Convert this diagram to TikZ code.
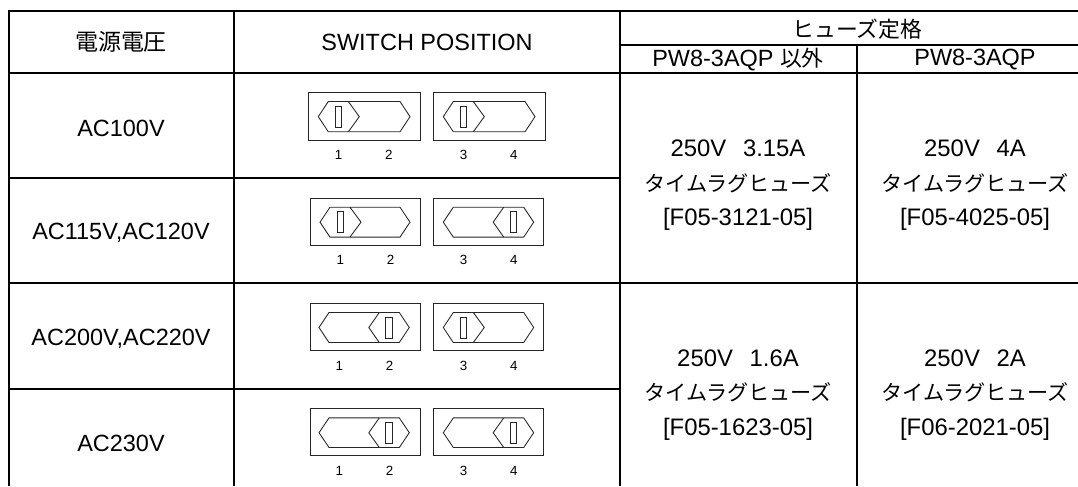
\documentclass[tikz,border=0pt]{standalone}
\usepackage{fontspec}
\setmainfont{Liberation Sans}
\newfontfamily\cjk[Scale=0.93]{Noto Sans CJK JP}
\newfontfamily\cjkh[Scale=0.98]{Noto Sans CJK JP}
\newfontfamily\cjkf[Scale=0.885]{Noto Sans CJK JP}
\tikzset{
 x=0.75pt,y=-0.75pt,
 rule/.style={line width=1.5pt,black},
 thin box/.style={draw=black!85,line width=0.65pt},
 lab/.style={font=\fontsize{17.6}{21}\selectfont,inner sep=0pt,anchor=center,align=center},
 fuse/.style={font=\fontsize{17.9}{25.9}\selectfont,inner sep=0pt,anchor=center,align=center},
 num/.style={font=\fontsize{10}{12}\selectfont,inner sep=0pt,anchor=center},
}
% frame left, top, right, bottom; hexagon left, right; knob side (0 left, 1 right); first number
\newcommand{\swunit}[8]{%
 \draw[thin box] (#1,#2) rectangle (#3,#4);
 \pgfmathsetmacro{\yt}{#2+9.2}\pgfmathsetmacro{\yb}{#4-8.2}\pgfmathsetmacro{\ym}{(\yt+\yb)/2}
 \pgfmathsetmacro{\xa}{#5}\pgfmathsetmacro{\xb}{#6}
 \draw[thin box] (\xa,\ym) -- (\xa+10,\yt) -- (\xb-10,\yt) -- (\xb,\ym) -- (\xb-10,\yb) -- (\xa+10,\yb) -- cycle;
 \ifnum#7=0
  \draw[thin box] (\xa+30,\yt) -- (\xa+41,\ym) -- (\xa+30,\yb);
  \draw[thin box] (\xa+17.2,\ym-10.5) rectangle (\xa+23.6,\ym+10.5);
 \else
  \draw[thin box] (\xb-30,\yt) -- (\xb-40.5,\ym) -- (\xb-30,\yb);
  \draw[thin box] (\xb-23.4,\ym-10.5) rectangle (\xb-17,\ym+10.5);
 \fi
 \node[num] at (\xa+20.3,#4+15) {#8};
 \node[num] at (\xa+70.5,#4+15) {\the\numexpr#8+1\relax};
}
\begin{document}
\begin{tikzpicture}
\useasboundingbox (0,0) rectangle (1078,486);
\fill[white] (0,0) rectangle (1078,486);
% rules
\draw[rule] (1078,11) -- (9,11) -- (9,486);
\draw[rule] (234,11) -- (234,486);
\draw[rule] (620,11) -- (620,486);
\draw[rule] (857,44.5) -- (857,486);
\draw[rule] (620,44.5) -- (1078,44.5);
\draw[rule] (9,72.5) -- (1078,72.5);
\draw[rule] (9,177.5) -- (620,177.5);
\draw[rule] (9,282.5) -- (1078,282.5);
\draw[rule] (9,389) -- (620,389);
% header
\node[lab] (h1) at (121,42) {\cjkh 電源電圧};
\node[lab] (h2) at (427,42) {SWITCH POSITION};
\node[lab] (h3) at (857.5,29) {\cjk ヒューズ定格};
\node[lab] (h4) at (738,59.5) {PW8-3AQP {\cjk 以外}};
\node[lab] (h5) at (975,59.5) {PW8-3AQP};
% rows
\node[lab] (r1) at (121,128) {AC100V};
\node[lab] (r2) at (121,233) {AC115V,AC120V};
\node[lab] (r3) at (121,338.5) {AC200V,AC220V};
\node[lab] (r4) at (121,443.5) {AC230V};
% switches
\swunit{308.3}{92.3}{420}{140}{318.3}{410}{0}{1}
\swunit{433.3}{92.3}{545.3}{140}{443.3}{535}{0}{3}
\swunit{310}{198}{420}{245.3}{320}{410}{0}{1}
\swunit{433.3}{198}{543.3}{245.3}{443.3}{533.7}{1}{3}
\swunit{310}{303.3}{420}{350.7}{319}{409.3}{1}{1}
\swunit{433.3}{303.3}{543.3}{350.7}{443.3}{533.7}{0}{3}
\swunit{310}{408.7}{420}{455.7}{319}{409.3}{1}{1}
\swunit{433.3}{408.7}{543.3}{455.7}{443.3}{533.7}{1}{3}
% fuses
\node[fuse] (f1) at (738,185.5) {250V\hspace{0.7em}3.15A\\{\cjkf タイムラグヒューズ}\\{[F05-3121-05]}};
\node[fuse] (f2) at (975,185.5) {250V\hspace{0.7em}4A\\{\cjkf タイムラグヒューズ}\\{[F05-4025-05]}};
\node[fuse] (f3) at (738,394.7) {250V\hspace{0.7em}1.6A\\{\cjkf タイムラグヒューズ}\\{[F05-1623-05]}};
\node[fuse] (f4) at (975,394.7) {250V\hspace{0.7em}2A\\{\cjkf タイムラグヒューズ}\\{[F06-2021-05]}};
\end{tikzpicture}
\end{document}
